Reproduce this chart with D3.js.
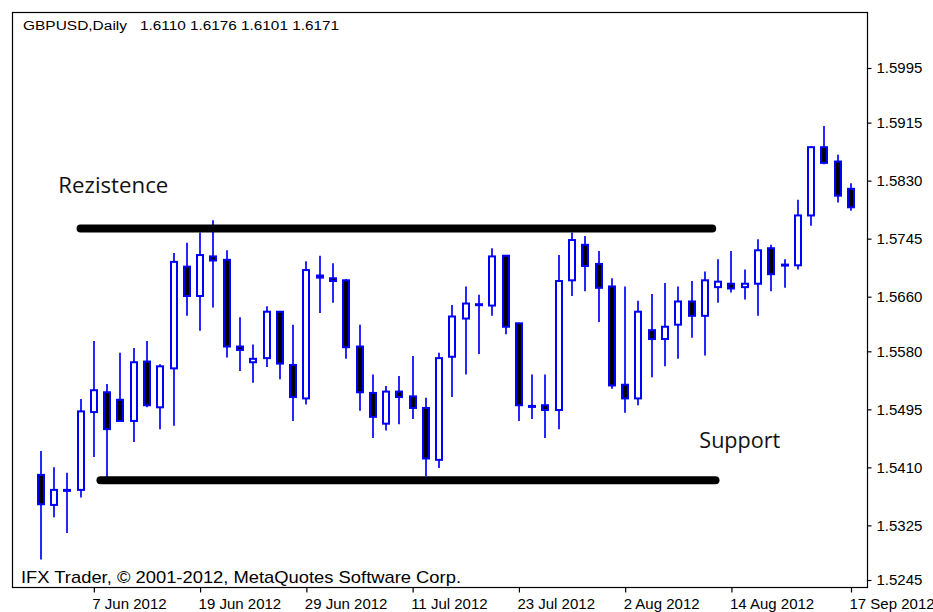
<!DOCTYPE html>
<html>
<head>
<meta charset="utf-8">
<script src="https://cdn.jsdelivr.net/npm/d3@7"></script>
<style>
  html, body { margin: 0; padding: 0; background: #ffffff; }
  svg { display: block; }
</style>
</head>
<body>
<svg id="chart" width="933" height="612"></svg>
<script>
// ---------------- DATA ----------------
const dates = [
  "1 Jun 2012",
  "4 Jun 2012","5 Jun 2012","6 Jun 2012","7 Jun 2012","8 Jun 2012",
  "11 Jun 2012","12 Jun 2012","13 Jun 2012","14 Jun 2012","15 Jun 2012",
  "18 Jun 2012","19 Jun 2012","20 Jun 2012","21 Jun 2012","22 Jun 2012",
  "25 Jun 2012","26 Jun 2012","27 Jun 2012","28 Jun 2012","29 Jun 2012",
  "2 Jul 2012","3 Jul 2012","4 Jul 2012","5 Jul 2012","6 Jul 2012",
  "9 Jul 2012","10 Jul 2012","11 Jul 2012","12 Jul 2012","13 Jul 2012",
  "16 Jul 2012","17 Jul 2012","18 Jul 2012","19 Jul 2012","20 Jul 2012",
  "23 Jul 2012","24 Jul 2012","25 Jul 2012","26 Jul 2012","27 Jul 2012",
  "30 Jul 2012","31 Jul 2012","1 Aug 2012","2 Aug 2012","3 Aug 2012",
  "6 Aug 2012","7 Aug 2012","8 Aug 2012","9 Aug 2012","10 Aug 2012",
  "13 Aug 2012","14 Aug 2012","15 Aug 2012","16 Aug 2012","17 Aug 2012",
  "20 Aug 2012","21 Aug 2012","22 Aug 2012","23 Aug 2012","24 Aug 2012",
  "17 Sep 2012"
];

const open = [
  1.5399,1.5355,1.5377,1.5377,1.5491,1.5520,1.5509,1.5478,1.5565,1.5498,
  1.5555,1.5704,1.5661,1.5719,1.5714,1.5587,1.5564,1.5570,1.5638,1.5560,
  1.5511,1.5691,1.5687,1.5684,1.5587,1.5519,1.5474,1.5521,1.5514,1.5497,
  1.5421,1.5572,1.5628,1.5648,1.5647,1.5720,1.5621,1.5500,1.5501,1.5494,
  1.5684,1.5736,1.5708,1.5675,1.5531,1.5511,1.5611,1.5598,1.5619,1.5653,
  1.5632,1.5674,1.5679,1.5674,1.5679,1.5731,1.5706,1.5706,1.5779,1.5879,
  1.5858,1.5818
];
const high = [
  1.5434,1.5410,1.5402,1.5510,1.5595,1.5532,1.5578,1.5585,1.5595,1.5561,
  1.5724,1.5739,1.5754,1.5772,1.5728,1.5630,1.5590,1.5646,1.5639,1.5619,
  1.5712,1.5720,1.5709,1.5686,1.5619,1.5546,1.5529,1.5544,1.5573,1.5512,
  1.5578,1.5648,1.5675,1.5663,1.5731,1.5721,1.5622,1.5546,1.5546,1.5721,
  1.5754,1.5749,1.5727,1.5687,1.5675,1.5654,1.5664,1.5680,1.5675,1.5683,
  1.5697,1.5715,1.5727,1.5700,1.5744,1.5736,1.5715,1.5802,1.5880,1.5910,
  1.5868,1.5826
];
const low = [
  1.5275,1.5337,1.5314,1.5366,1.5425,1.5396,1.5478,1.5447,1.5498,1.5466,
  1.5471,1.5632,1.5610,1.5644,1.5571,1.5551,1.5534,1.5557,1.5539,1.5478,
  1.5502,1.5636,1.5651,1.5569,1.5493,1.5453,1.5464,1.5473,1.5481,1.5397,
  1.5409,1.5513,1.5546,1.5576,1.5632,1.5605,1.5478,1.5481,1.5453,1.5466,
  1.5661,1.5668,1.5623,1.5525,1.5490,1.5501,1.5542,1.5558,1.5569,1.5600,
  1.5574,1.5651,1.5666,1.5656,1.5632,1.5668,1.5673,1.5700,1.5764,1.5854,
  1.5798,1.5786
];
const close = [
  1.5356,1.5377,1.5377,1.5492,1.5523,1.5466,1.5478,1.5564,1.5501,1.5558,
  1.5711,1.5661,1.5721,1.5713,1.5587,1.5582,1.5569,1.5638,1.5562,1.5513,
  1.5699,1.5688,1.5683,1.5586,1.5520,1.5484,1.5521,1.5513,1.5497,1.5423,
  1.5570,1.5631,1.5650,1.5649,1.5719,1.5616,1.5501,1.5499,1.5494,1.5683,
  1.5743,1.5705,1.5673,1.5530,1.5511,1.5638,1.5598,1.5616,1.5653,1.5632,
  1.5684,1.5682,1.5672,1.5679,1.5728,1.5693,1.5707,1.5779,1.5879,1.5856,
  1.5808,1.5791
];

const priceTickLabels = ["1.5995","1.5915","1.5830","1.5745","1.5660","1.5580","1.5495","1.5410","1.5325","1.5245"];
const dateTickLabels = ["7 Jun 2012","19 Jun 2012","29 Jun 2012","11 Jul 2012","23 Jul 2012","2 Aug 2012","14 Aug 2012","17 Sep 2012"];

// horizontal levels drawn on the chart (price, first and last bar index)
const levelNames = ["Rezistence", "Support"];
const levelPrices = [1.5760, 1.5391];
const levelFromBar = [3.0, 4.5];
const levelToBar = [50.55, 50.8];

const headerSymbol = "GBPUSD,Daily";
const headerQuote = ["1.6110", "1.6176", "1.6101", "1.6171"];
const footerText = "IFX Trader, \u00A9 2001-2012, MetaQuotes Software Corp.";

// ---------------- LAYOUT ----------------
const frame = { left: 12.5, top: 12.5, right: 867.5, bottom: 587.5 };
const BLUE = "#0000ff";
const FONT = "'Liberation Sans', Arial, sans-serif";
const UIFONT = "'Open Sans', 'Liberation Sans', sans-serif";

const svg = d3.select("#chart");
svg.append("rect").attr("width", 933).attr("height", 612).attr("fill", "#fff");

const y = d3.scaleLinear().domain([1.5245, 1.5995]).range([580, 68]);
const x = d3.scalePoint().domain(dates).range([40.7, 851]);
const xi = d3.scaleLinear().domain([0, dates.length - 1]).range([40.7, 851]);

// frame
svg.append("rect")
  .attr("x", frame.left).attr("y", frame.top)
  .attr("width", frame.right - frame.left).attr("height", frame.bottom - frame.top)
  .attr("fill", "none").attr("stroke", "#000").attr("stroke-width", 1.2);

// price axis (right)
const yAxis = d3.axisRight(y)
  .tickValues(priceTickLabels.map(Number))
  .tickFormat((d, i) => priceTickLabels[i])
  .tickSize(4).tickPadding(5);
const gy = svg.append("g").attr("transform", `translate(${frame.right},0)`).call(yAxis);
gy.select(".domain").remove();
gy.selectAll(".tick line").attr("stroke", "#000").attr("stroke-width", 1.2);
gy.selectAll(".tick text")
  .attr("fill", "#000")
  .style("font-family", FONT).style("font-size", "15px");

// date axis (bottom)
const xAxis = d3.axisBottom(x).tickValues(dateTickLabels).tickSize(5);
const gx = svg.append("g").attr("transform", `translate(0,${frame.bottom})`).call(xAxis);
gx.select(".domain").remove();
gx.selectAll(".tick line").attr("stroke", "#000").attr("stroke-width", 1.2);
gx.selectAll(".tick text")
  .attr("fill", "#000")
  .attr("text-anchor", "start")
  .attr("x", -2).attr("y", 10.5)
  .style("font-family", FONT).style("font-size", "15px");

// candles
const bars = d3.range(dates.length).map(i => ({
  d: dates[i], o: open[i], h: high[i], l: low[i], c: close[i]
}));
const gc = svg.append("g");
const candle = gc.selectAll("g.candle").data(bars).join("g").attr("class", "candle");
candle.append("line")
  .attr("x1", b => Math.round(x(b.d))).attr("x2", b => Math.round(x(b.d)))
  .attr("y1", b => y(b.h)).attr("y2", b => y(b.l))
  .attr("stroke", BLUE).attr("stroke-width", 1.7);
candle.append("rect")
  .attr("x", b => Math.round(x(b.d)) - 3)
  .attr("width", 6)
  .attr("y", b => y(Math.max(b.o, b.c)))
  .attr("height", b => Math.max(1, Math.abs(y(b.o) - y(b.c))))
  .attr("fill", b => b.c < b.o ? "#000" : "#fff")
  .attr("stroke", BLUE).attr("stroke-width", 2);

// level lines
const gl = svg.append("g");
levelPrices.forEach((p, i) => {
  gl.append("line")
    .attr("x1", xi(levelFromBar[i])).attr("x2", xi(levelToBar[i]))
    .attr("y1", y(p)).attr("y2", y(p))
    .attr("stroke", "#000").attr("stroke-width", 8)
    .attr("stroke-linecap", "round");
});

// level labels
svg.append("text").text(levelNames[0])
  .attr("x", 58.3).attr("y", 193.3)
  .attr("textLength", 110).attr("lengthAdjust", "spacingAndGlyphs")
  .attr("fill", "#111")
  .style("font-family", UIFONT).style("font-size", "22px");
svg.append("text").text(levelNames[1])
  .attr("x", 699.3).attr("y", 447.5)
  .attr("textLength", 81).attr("lengthAdjust", "spacingAndGlyphs")
  .attr("fill", "#111")
  .style("font-family", UIFONT).style("font-size", "22px");

// header
svg.append("text").text(headerSymbol)
  .attr("x", 23).attr("y", 29.5)
  .attr("textLength", 104).attr("lengthAdjust", "spacingAndGlyphs")
  .attr("fill", "#000")
  .style("font-family", FONT).style("font-size", "12.5px");
svg.append("text").text(headerQuote.join(" "))
  .attr("x", 140).attr("y", 29.5)
  .attr("textLength", 199).attr("lengthAdjust", "spacingAndGlyphs")
  .attr("fill", "#000")
  .style("font-family", FONT).style("font-size", "12.5px");

// footer
svg.append("text").text(footerText)
  .attr("x", 21).attr("y", 583)
  .attr("textLength", 440).attr("lengthAdjust", "spacingAndGlyphs")
  .attr("fill", "#000")
  .style("font-family", FONT).style("font-size", "17px");
</script>
</body>
</html>
